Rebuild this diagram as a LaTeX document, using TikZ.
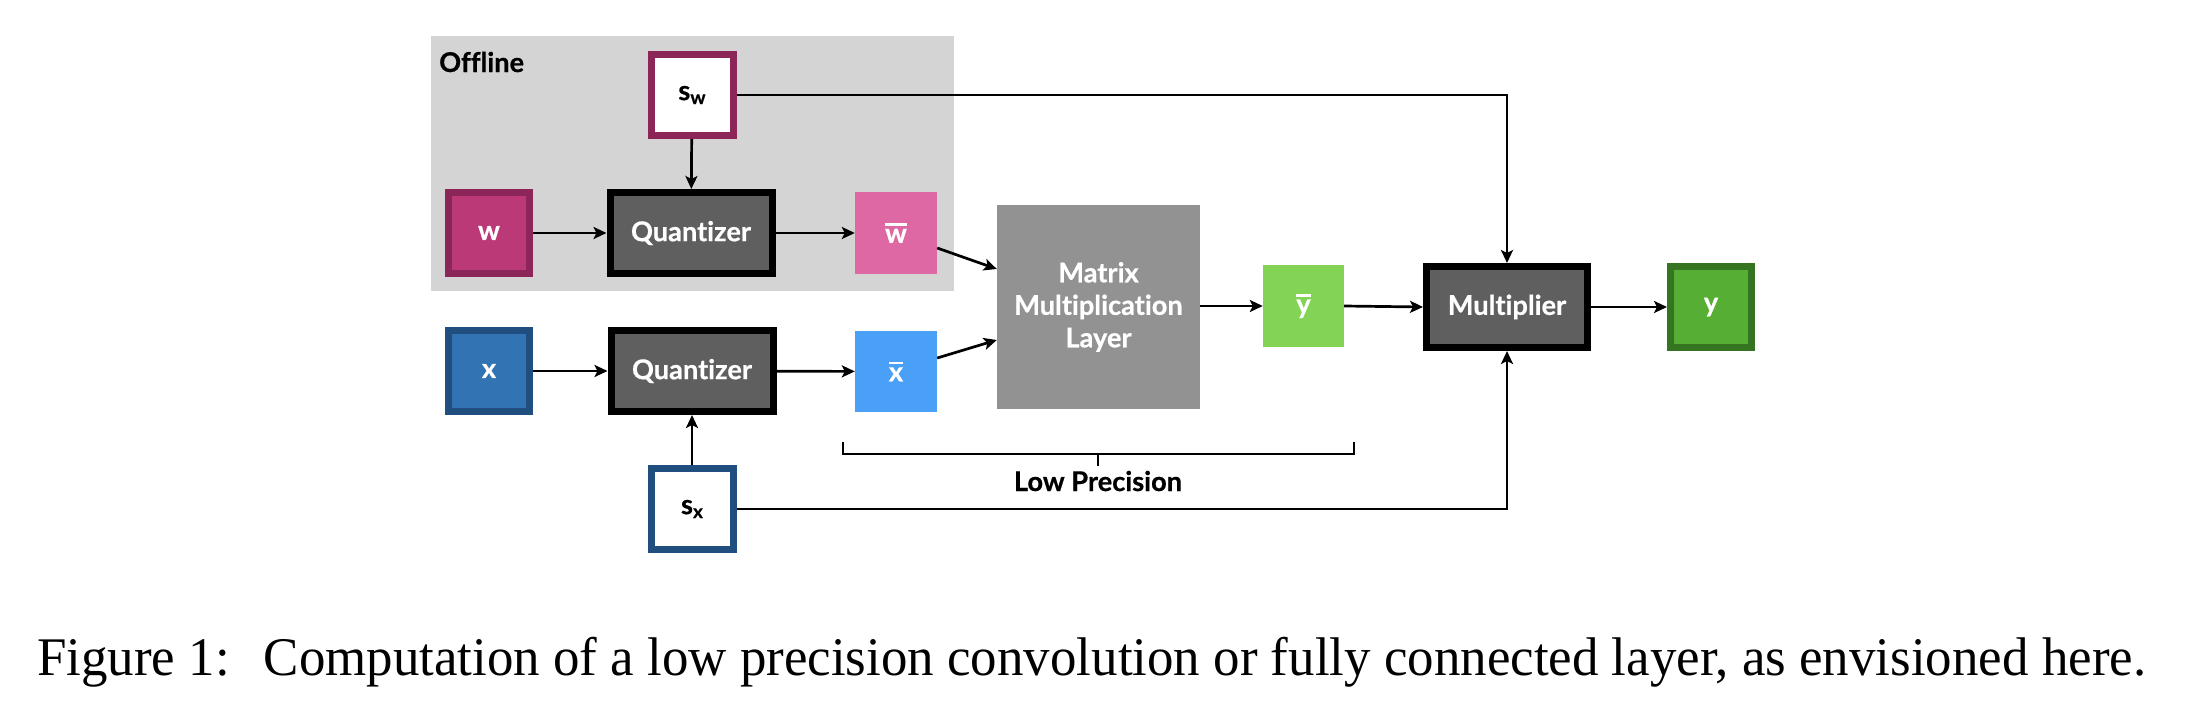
\documentclass[tikz,border=0pt]{standalone}
\usepackage{fontspec}
\setmainfont{Liberation Serif}
\newfontfamily\capfont{Liberation Serif}[FakeStretch=0.973]
\newfontfamily\dfont{Lato}[Ligatures=NoCommon, BoldFeatures={FakeBold=0.6}]
\usetikzlibrary{arrows.meta,calc}
\definecolor{magD}{HTML}{8C2558}
\definecolor{magM}{HTML}{BB3977}
\definecolor{pinkL}{HTML}{DE68A4}
\definecolor{blueD}{HTML}{1F4E7F}
\definecolor{blueM}{HTML}{3273B4}
\definecolor{blueL}{HTML}{4AA0F6}
\definecolor{grayQ}{HTML}{5F5F5F}
\definecolor{grayM}{HTML}{929292}
\definecolor{bgc}{HTML}{D4D4D4}
\definecolor{greenL}{HTML}{83D355}
\definecolor{greenM}{HTML}{56AF34}
\definecolor{greenD}{HTML}{357521}
\newsavebox\ovlbox
\newcommand\ovl[1]{\sbox\ovlbox{#1}\rlap{\raisebox{\dimexpr\ht\ovlbox+3pt\relax}{\rule{\wd\ovlbox}{2.6pt}}}\usebox\ovlbox}
\newcommand\subl[1]{\raisebox{-4pt}{\fontsize{19}{19}\selectfont #1}}
\tikzset{
  lbl/.style={font=\dfont\bfseries\fontsize{27.2}{32.5}\selectfont, align=center, inner sep=0pt},
  sq/.style={lbl, rectangle, text=white},
  bordered/.style={sq, draw=#1, line width=7pt},
  quant/.style={bordered=black, fill=grayQ, minimum width=162pt, minimum height=81pt},
  conn/.style={line width=2.7pt, -{Stealth[length=13pt,width=12pt,inset=3pt]}},
  wire/.style={line width=2.7pt},
}
\begin{document}
\begin{tikzpicture}[x=1pt,y=-1pt]
\useasboundingbox (0,0) rectangle (2194,726);
\fill[white] (0,0) rectangle (2194,726);
% offline background
\node[fill=bgc, minimum width=523pt, minimum height=255pt, inner sep=0pt] (bg) at (692.5,163.5) {};
\node[lbl, text=black, anchor=base west] (off) at (439,72) {Offline};
% nodes
\node[bordered=magD, fill=white, text=black, minimum width=82pt, minimum height=81pt] (sw) at (692,95) {s\subl{w}};
\node[bordered=magD, fill=magM, minimum width=81pt, minimum height=81pt] (w) at (489,233) {w};
\node[quant] (q1) at (691,233) {Quantizer};
\node[sq, fill=pinkL, minimum width=82pt, minimum height=82pt] (wb) at (896,233) {\ovl{w}};
\node[bordered=blueD, fill=blueM, minimum width=81pt, minimum height=81pt] (x) at (489,371) {x};
\node[quant] (q2) at (692,371) {Quantizer};
\node[sq, fill=blueL, minimum width=82pt, minimum height=81pt] (xb) at (896,371.5) {\ovl{x}};
\node[bordered=blueD, fill=white, text=black, minimum width=82pt, minimum height=81pt] (sx) at (692,509) {s\subl{x}};
\node[sq, fill=grayM, minimum width=203pt, minimum height=204pt] (mm) at (1098.5,307) {Matrix\\Multiplication\\Layer};
\node[sq, fill=greenL, minimum width=81pt, minimum height=82pt] (yb) at (1303.5,306) {\ovl{y}};
\node[bordered=black, fill=grayQ, minimum width=161pt, minimum height=81pt] (mult) at (1507,307) {Multiplier};
\node[bordered=greenD, fill=greenM, minimum width=81pt, minimum height=81pt] (y) at (1711,307) {y};
% connectors
\draw[conn] (w) -- (q1);
\draw[conn] (q1) -- (wb);
\draw[conn] (sw) -- (q1);
\draw[conn] (x) -- (q2);
\draw[conn] (q2) -- (xb);
\draw[conn] (sx) -- (q2);
\draw[conn] ([yshift=-15pt]wb.east) -- ([yshift=38pt]mm.west);
\draw[conn] ([yshift=13.5pt]xb.east) -- ([yshift=-33pt]mm.west);
\draw[conn] (mm.east |- yb.west) -- (yb.west);
\draw[conn] (yb.east) -- (mult.west);
\draw[conn] (mult) -- (y);
\draw[conn] (sw.east) -| (mult.north);
\draw[conn] (sx.east) -| (mult.south);
% low precision bracket
\coordinate (bl) at (843,442);
\coordinate (br) at (1354,442);
\coordinate (bm) at (1098,454);
\draw[wire] (bl) -- (bl |- bm) -- (br |- bm) -- (br);
\draw[wire] (bm) -- ++(0,12);
\node[lbl, text=black, anchor=base] (lp) at (1098,491) {Low Precision};
% caption
\node[font=\capfont\fontsize{54.4}{60}\selectfont, anchor=base west, inner sep=0pt] (cap) at (37,675) {Figure 1:\hspace{34pt}Computation of a low precision convolution or fully connected layer, as envisioned here.};
\end{tikzpicture}
\end{document}
